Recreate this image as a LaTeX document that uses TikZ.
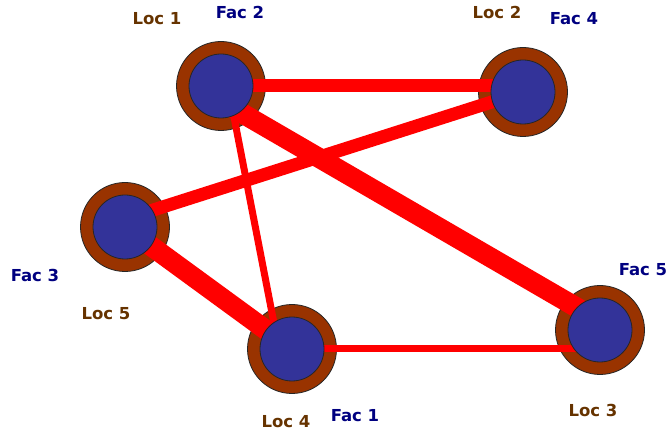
\documentclass[tikz,border=0pt]{standalone}
\usepackage{fontspec}
\setmainfont{DejaVu Sans}
\definecolor{ringBrown}{RGB}{153,51,0}
\definecolor{siteBlue}{RGB}{51,51,153}
\definecolor{locText}{RGB}{102,51,0}
\definecolor{facText}{RGB}{0,0,128}
\tikzset{
    ring/.style={circle, draw=black!85, line width=0.8pt, fill=ringBrown, minimum size=89pt, inner sep=0pt},
    site/.style={circle, draw=black!85, line width=0.8pt, fill=siteBlue, minimum size=64pt, inner sep=0pt},
    flow/.style={red, line cap=butt},
    loclbl/.style={font=\bfseries\fontsize{16.5}{20}\selectfont, text=locText},
    faclbl/.style={font=\bfseries\fontsize{16.5}{20}\selectfont, text=facText}
}

\begin{document}
\begin{tikzpicture}[x=1pt,y=-1pt]
\useasboundingbox (0,0) rectangle (669,435);
% locations (outer rings)
\node[ring] (loc1) at (221, 86) {};
\node[ring] (loc2) at (523, 92) {};
\node[ring] (loc3) at (600,330) {};
\node[ring] (loc4) at (292,349) {};
\node[ring] (loc5) at (125,227) {};
% flows between facilities
\draw[flow,line width=13pt] (loc1.center) -- (loc1.center -| loc2.center);
\draw[flow,line width=20pt] ([yshift=-15pt]loc1.center) -- ([yshift=9pt]loc3.center);
\draw[flow,line width=7pt]  ([xshift=7pt]loc1.center) -- ([xshift=-13pt]loc4.center);
\draw[flow,line width=13pt] (loc2.center) -- ([yshift=8pt]loc5.center);
\draw[flow,line width=20pt] (loc5.center) -- (loc4.center);
\draw[flow,line width=7pt]  (loc4.center) -- (loc4.center -| loc3.center);
% facilities (inner discs)
\node[site] (fac2) at (loc1) {};
\node[site] (fac4) at (loc2) {};
\node[site] (fac5) at (loc3) {};
\node[site] (fac1) at (loc4) {};
\node[site] (fac3) at (loc5) {};
% labels
\node[loclbl] (loc1lbl) at (157, 19) {Loc 1};
\node[faclbl] (fac2lbl) at (240, 12) {Fac 2};
\node[loclbl] (loc2lbl) at (497, 12) {Loc 2};
\node[faclbl] (fac4lbl) at (574, 19) {Fac 4};
\node[faclbl] (fac3lbl) at ( 35,275) {Fac 3};
\node[loclbl] (loc5lbl) at (106,314) {Loc 5};
\node[loclbl] (loc4lbl) at (286,422) {Loc 4};
\node[faclbl] (fac1lbl) at (355,416) {Fac 1};
\node[faclbl] (fac5lbl) at (643,270) {Fac 5};
\node[loclbl] (loc3lbl) at (593,410) {Loc 3};
\end{tikzpicture}
\end{document}
